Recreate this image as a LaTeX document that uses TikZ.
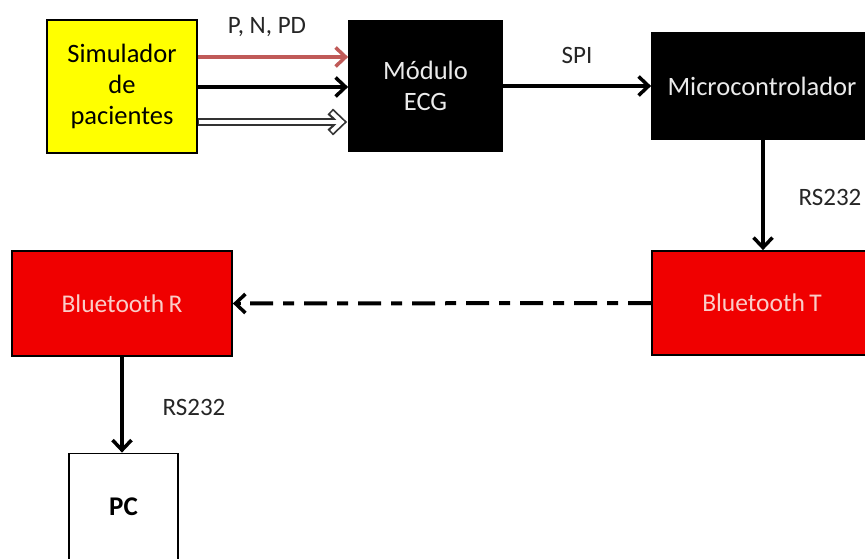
\documentclass[tikz,border=0pt]{standalone}
\usepackage{fontspec}
\setmainfont{Carlito}
\usetikzlibrary{arrows.meta}
\definecolor{simyellow}{RGB}{255,255,0}
\definecolor{btred}{RGB}{240,0,0}
\definecolor{btext}{RGB}{250,205,200}
\definecolor{wtext}{RGB}{235,235,235}
\definecolor{redarrow}{RGB}{192,90,88}
\tikzset{
  blk/.style={draw=black, line width=1.8pt, rectangle, inner sep=0pt, align=center,
              font=\fontsize{26.5}{31}\selectfont},
  btblk/.style={blk, fill=btred, text=btext, minimum width=220pt, font=\fontsize{25.5}{28}\selectfont},
  conn/.style={line width=3.5pt, -{Straight Barb[length=10pt,width=19pt,line width=3.5pt]}},
  lbl/.style={font=\fontsize{25}{28}\selectfont, inner sep=0pt, text=black!85},
}
\begin{document}
\begin{tikzpicture}[x=1pt,y=-1pt]
\useasboundingbox (0,0) rectangle (865,559);
\clip (0,0) rectangle (865,559);
\fill[white] (0,0) rectangle (865,559);
\node[blk, fill=simyellow, minimum width=150pt, minimum height=133pt] (sim) at (122,86.5) {Simulador\\de\\pacientes};
\node[blk, fill=black, text=wtext, minimum width=153pt, minimum height=131pt] (ecg) at (425.5,86) {Módulo\\ECG};
\node[blk, fill=black, text=wtext, minimum width=220pt, minimum height=106pt] (mcu) at (762,86) {Microcontrolador};
\node[btblk, minimum height=104pt] (btt) at (762,303) {Bluetooth\hspace{-1.5pt} T};
\node[btblk, minimum height=105pt] (btr) at (122,303.5) {Bluetooth\hspace{-1.5pt} R};
\node[blk, fill=white, minimum width=109pt, minimum height=106pt, font=\fontsize{27}{30}\bfseries\selectfont] (pc) at (123.5,506.5) {PC};

\coordinate (a1) at (sim.east |- 0,57);
\coordinate (a2) at (sim.east |- 0,87);
\coordinate (a3) at (sim.east |- 0,122);
\draw[conn, redarrow] (a1) -- (ecg.west |- a1);
\draw[conn] (a2) -- (ecg.west |- a2);
\draw[line width=8.5pt, black!80, -{Straight Barb[length=11pt,width=21pt,line width=8pt]}] (a3) -- ([xshift=-1pt]ecg.west |- a3);
\draw[line width=4.5pt, white, -{Straight Barb[length=10pt,width=19pt,line width=4pt]}] ([xshift=1pt]a3) -- ([xshift=-3.5pt]ecg.west |- a3);

\draw[conn] (ecg.east |- mcu.west) -- (mcu.west);
\draw[conn] (mcu.south -| 763,0) -- (btt.north -| 763,0);
\draw[line width=4pt, dash pattern=on 23pt off 10pt on 11pt off 10pt] (btt.west) -- ([xshift=6pt]btr.east);
\draw[line width=3.5pt, -{Straight Barb[length=10pt,width=19pt,line width=3.5pt]}] ([xshift=8pt]btr.east) -- (btr.east);
\draw[conn] (btr.south -| 122,0) -- (pc.north -| 122,0);

\node[lbl] (lpn) at (267,27) {P, N, PD};
\node[lbl] (lspi) at (577,55) {SPI};
\node[lbl] (lrs1) at (830,197) {RS232};
\node[lbl] (lrs2) at (194,407) {RS232};
\end{tikzpicture}
\end{document}
